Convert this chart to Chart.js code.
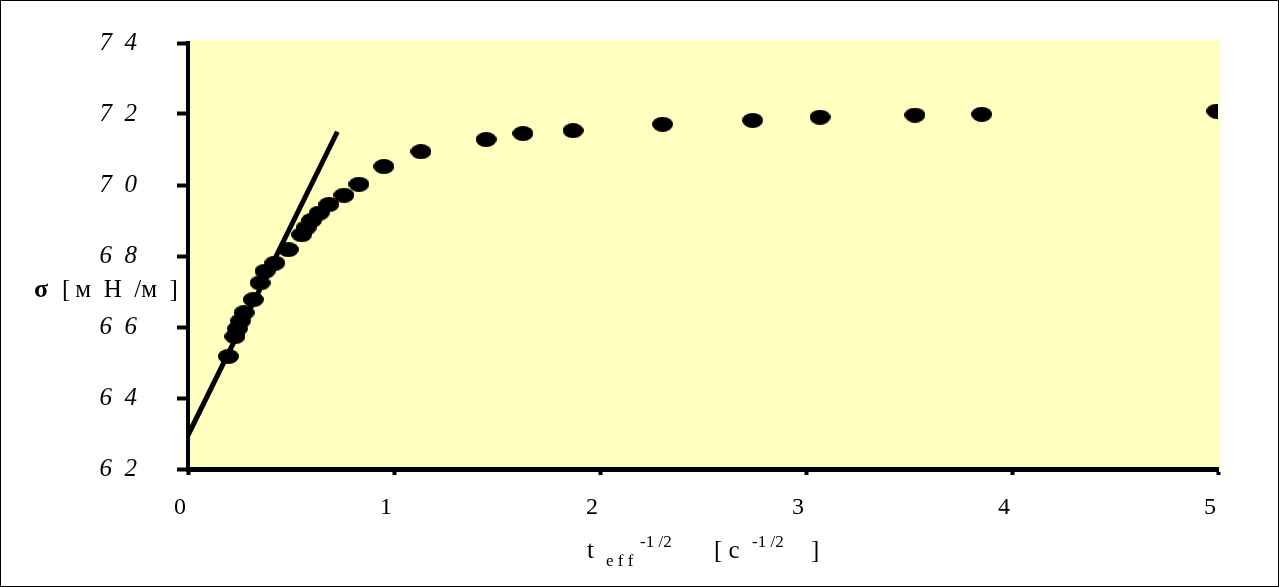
<!DOCTYPE html>
<html>
<head>
<meta charset="UTF-8">
<title>sigma vs t_eff^-1/2</title>
<script src="https://cdn.jsdelivr.net/npm/chart.js"></script>
<style>
  * { box-sizing: border-box; margin: 0; padding: 0; }
  body { background: #fff; width: 1279px; height: 587px; position: relative; overflow: hidden; }
  #frame { position: absolute; left: 0; top: 0; width: 1279px; height: 587px; border: 1px solid #000; pointer-events: none; }
  canvas { position: absolute; left: 0; top: 0; }
</style>
</head>
<body>
<canvas id="grafica" width="1279" height="587"></canvas>
<div id="frame"></div>
<script>
// measured points: x = t_eff^-1/2 [c^-1/2], y = sigma [mN/m]
const tEff = [0.196, 0.228, 0.240, 0.255, 0.272, 0.317, 0.350, 0.374, 0.422, 0.487,
              0.552, 0.573, 0.600, 0.637, 0.684, 0.757, 0.830, 0.951, 1.131, 1.447,
              1.626, 1.869, 2.304, 2.741, 3.068, 3.529, 3.853, 4.994];
const sigma = [65.17, 65.73, 65.95, 66.17, 66.40, 66.77, 67.24, 67.57, 67.80, 68.18,
               68.60, 68.79, 69.00, 69.21, 69.45, 69.71, 70.02, 70.52, 70.94, 71.28,
               71.45, 71.53, 71.71, 71.82, 71.91, 71.97, 71.99, 72.08];
// straight line (initial slope)
const fitX = [0, 0.725];
const fitY = [62.95, 71.5];
// axis ticks
const xTicks = [0, 1, 2, 3, 4, 5];
const yTicks = [62, 64, 66, 68, 70, 72, 74];

// elliptic marker like the original
const marker = document.createElement('canvas');
marker.width = 21; marker.height = 15;
const mctx = marker.getContext('2d');
mctx.fillStyle = '#000';
mctx.beginPath();
mctx.ellipse(10.5, 7.5, 10.5, 7.5, 0, 0, Math.PI * 2);
mctx.fill();

const plotBg = {
  id: 'plotBg',
  beforeDraw(chart) {
    const a = chart.chartArea, c = chart.ctx;
    c.save();
    c.fillStyle = '#FFFFC0';
    c.fillRect(a.left, a.top - 3, a.right - a.left + 2, a.bottom - a.top + 3);
    c.restore();
  }
};

const titles = {
  id: 'titles',
  afterDraw(chart) {
    const c = chart.ctx;
    c.save();
    c.fillStyle = '#000';
    c.textBaseline = 'alphabetic';
    // y title
    c.font = 'bold 26px "Liberation Serif"';
    c.fillText('σ', 34, 297);
    c.font = '25px "Liberation Serif"';
    c.fillText('[\u2009м\u2002Н\u2002/м\u2002]', 62, 297);
    // x title
    c.font = '25px "Liberation Serif"';
    c.fillText('t', 587, 558);
    c.font = '17px "Liberation Serif"';
    c.fillText('e f f', 606, 566);
    c.fillText('-1 /2', 640, 547);
    c.font = '25px "Liberation Serif"';
    c.fillText('[ c', 714, 558);
    c.font = '17px "Liberation Serif"';
    c.fillText('-1 /2', 752, 547);
    c.font = '25px "Liberation Serif"';
    c.fillText(']', 811, 558);
    c.restore();
  }
};

new Chart(document.getElementById('grafica'), {
  type: 'scatter',
  data: {
    datasets: [{
      data: fitX.map((x, i) => ({ x: x, y: fitY[i] })),
      showLine: true,
      borderColor: '#000',
      borderWidth: 5,
      pointRadius: 0,
      fill: false
    }, {
      data: tEff.map((x, i) => ({ x: x, y: sigma[i] })),
      pointStyle: marker,
      pointRadius: 8,
      backgroundColor: '#000',
      borderColor: '#000'
    }]
  },
  options: {
    responsive: false,
    animation: false,
    layout: { padding: { top: 43, right: 61, left: 0, bottom: 0 } },
    plugins: { legend: { display: false }, tooltip: { enabled: false } },
    scales: {
      x: {
        type: 'linear', min: 0, max: 5,
        afterBuildTicks(s) { s.ticks = xTicks.map(v => ({ value: v })); },
        afterFit(s) { s.height = 118; s.paddingLeft = 0; s.paddingRight = 0; },
        border: { color: '#000', width: 5 },
        grid: { drawOnChartArea: false, drawTicks: true, tickLength: 6, tickWidth: 4, tickColor: '#000' },
        ticks: { color: '#000', padding: 18, labelOffset: -8, font: { family: 'Liberation Serif', size: 24 } }
      },
      y: {
        type: 'linear', min: 62, max: 74,
        afterBuildTicks(s) { s.ticks = yTicks.map(v => ({ value: v })); },
        afterFit(s) { s.width = 188; s.paddingTop = 0; s.paddingBottom = 0; },
        border: { color: '#000', width: 4 },
        grid: { drawOnChartArea: false, drawTicks: true, tickLength: 11, tickWidth: 4, tickColor: '#000' },
        ticks: {
          color: '#000', padding: 40,
          font: { family: 'Liberation Serif', size: 25, style: 'italic' },
          callback: v => String(v).split('').join('\u2002')
        }
      }
    }
  },
  plugins: [plotBg, titles]
});
</script>
</body>
</html>
